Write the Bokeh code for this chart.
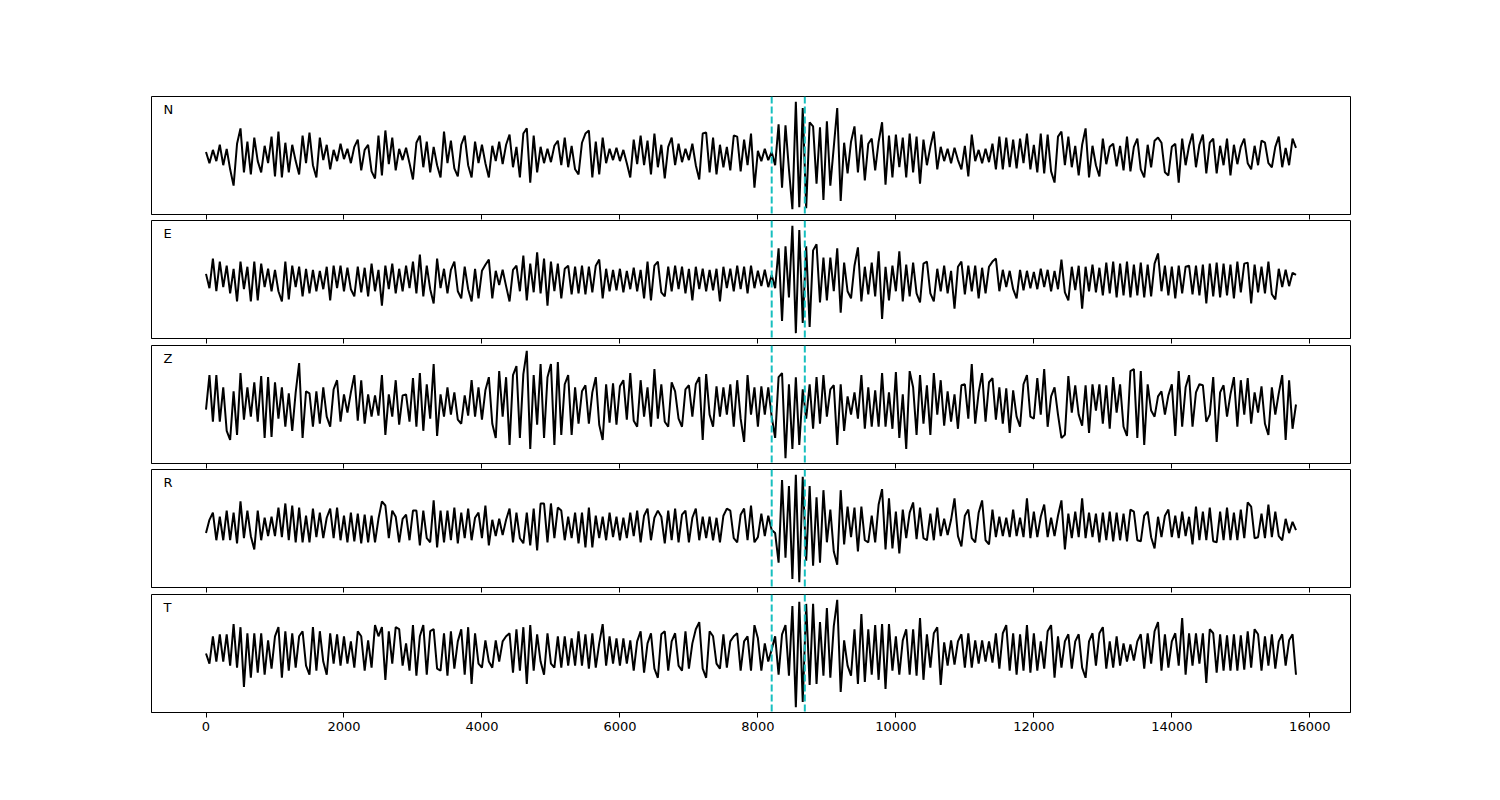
import numpy as np
from bokeh.plotting import figure
from bokeh.layouts import column
from bokeh.models import Span, Label, Range1d, FixedTicker
from bokeh.embed import file_html
from bokeh.resources import INLINE

# sample interval of the traces (x units)
DT = 50

N_vals = [
    3, -8, 5, -6, 10, -10, 6, -14, -30, 11,
    26, -17, 13, -19, 17, -6, -17, 9, -8, 18,
    -21, 23, -22, 12, -17, 10, -6, -19, 19, -8,
    22, -10, -22, 17, -5, 10, -14, 5, -6, 11,
    -4, 6, -8, 8, 15, -15, 5, 10, -16, -23,
    19, -20, 24, -9, 17, -15, 6, -5, 7, -8,
    -24, 12, 19, -12, 13, -17, 8, -10, -22, 23,
    -8, 14, -13, -21, 10, 19, -10, -22, 13, -8,
    10, -8, -22, 9, -6, 13, -9, 10, 20, -12,
    8, -22, 21, 26, -27, 19, -17, 8, -8, 6,
    -7, 9, 14, -10, 17, -12, 9, -14, -19, 12,
    21, 24, -22, 13, -19, 17, -8, 6, -5, 7,
    -6, 5, -8, -22, 15, -9, 19, -10, 14, -19,
    21, -12, 10, -23, 8, 17, -10, 11, -7, 6,
    -5, 11, -10, -24, 21, 22, -17, 17, -19, 10,
    -12, 8, -15, 19, 18, -16, 15, -10, 21, -32,
    4, -6, 6, -5, 3, -10, 30, -32, 29, -14,
    -53, 52, -51, 46, -52, 32, 28, -28, 27, -44,
    33, -30, 8, 46, -45, 12, -18, 13, 28, -17,
    20, -25, 11, 16, -15, 13, 32, -29, 19, -22,
    20, -12, 17, -22, 21, -17, 18, -28, 15, -10,
    8, 23, -14, 8, -6, 6, -8, 7, -5, -14,
    9, -21, 20, -6, 5, -8, 6, -7, 11, -14,
    18, -14, 17, -12, 15, -13, 16, -8, 21, -14,
    10, -17, 21, -18, 20, -16, -27, 18, 23, -10,
    18, -12, 9, -20, 10, 26, -22, 9, -10, -21,
    16, -9, 8, 11, -11, 9, -15, 18, -16, 8,
    16, -14, -22, 10, -12, 14, 17, 12, -17, -20,
    8, 11, -27, 16, -10, 9, 21, -12, 10, 20,
    -18, 12, 16, -18, 9, -10, 16, -20, 10, -9,
    8, 16, -8, -14, 9, -10, 14, 12, -8, -12,
    8, 18, -12, 7, -10, 16, 7,
]

E_vals = [
    5, -9, 20, -12, 17, -8, 13, -14, 10, -22,
    17, -10, 12, -22, 17, -21, 15, -8, 10, -12,
    9, -12, -22, 17, -20, 13, -8, 12, -17, 10,
    -14, 9, -12, 8, -10, 12, -21, 13, -9, 13,
    -12, 11, -10, -17, 12, -13, 11, -17, 15, -12,
    9, -26, 13, -10, 15, -14, 10, -12, 13, -9,
    17, -14, 24, -17, 13, -10, -24, 20, -9, 10,
    -14, 9, 17, -12, -19, 12, -10, -22, 10, -19,
    8, 14, 19, -19, 8, -6, 9, -7, -22, 9,
    13, -12, 23, -21, 15, -13, 26, -14, 20, -26,
    17, -12, 15, -19, 10, 13, -15, 12, -14, 13,
    -15, 12, -13, 13, 19, -19, 10, -12, 9, -11,
    10, -13, 8, -10, 11, -12, 9, -19, 17, -21,
    13, 17, -13, -17, 12, -12, 13, -10, 12, -14,
    10, -21, 12, -10, 10, -12, 9, -11, 10, -22,
    12, -9, 10, -12, 13, -10, 12, -14, 13, -9,
    8, -7, 9, -8, 4, -9, 30, -41, 32, -18,
    52, -53, 48, -43, 32, -47, 28, 34, -23, 21,
    -21, 21, -12, 30, -33, 16, -12, -19, 13, 31,
    -22, 12, -15, 16, -17, 27, -39, 12, -21, 13,
    -12, 27, -22, 14, -17, 16, -14, -23, 15, 17,
    -14, -22, 10, -12, 13, -14, 8, -29, 12, 17,
    -15, 13, -12, 13, -19, 11, -14, 12, 17, 20,
    -12, 9, -8, 8, -10, -19, 9, -11, 8, -9,
    7, -10, 10, -8, 9, -12, 8, -10, 19, -13,
    -21, 12, -11, 13, -29, 12, -12, 14, -13, 11,
    -16, 16, -14, 17, -18, 15, -16, 17, -18, 14,
    -16, 16, -18, 14, -17, 15, 25, -12, 13, -16,
    12, -19, 13, -14, 12, 13, -15, 13, -16, 14,
    -24, 15, -17, 16, -18, 15, -16, 14, -19, 17,
    -13, 15, 16, -24, 14, -13, 12, -14, 17, -15,
    -20, 10, -8, 9, -7, 6, 4,
]

Z_vals = [
    -5, 29, -17, 29, -17, 17, -26, -35, 13, -30,
    31, -15, 17, -12, 22, -17, 28, -33, 27, -32,
    22, -14, 17, -22, 11, -26, 12, 41, -33, 13,
    11, -22, 13, -19, 17, -12, -22, 15, 24, -17,
    10, -8, 12, 29, -16, 24, -19, 10, -12, 9,
    -11, 29, -30, 10, -12, 24, -20, 9, 10, -17,
    26, -22, 31, -26, 20, -14, 40, -31, 10, -12,
    17, -10, 12, -15, -19, 9, -11, 24, -12, 17,
    -15, 14, 27, -19, -33, 33, -12, 27, -40, 29,
    38, -33, 30, 53, -44, 29, -20, 40, -33, 27,
    40, -40, 42, -30, 20, 29, -30, 17, -19, 13,
    19, -19, 12, 27, -20, -35, 20, -18, 21, -20,
    18, 24, -15, 31, -16, -22, 24, -12, 17, -22,
    35, -14, 20, -17, -22, 22, 13, -14, -22, 15,
    19, -12, 20, 27, -35, 30, -10, -22, 18, -12,
    17, -10, 20, -22, 24, -14, -37, 29, -10, 17,
    -22, 18, -10, 17, -12, -33, 27, 31, -53, 20,
    -44, 27, -40, 15, -14, 20, -24, 27, -19, 29,
    -12, 15, 19, -40, 20, -26, 8, -10, 12, -14,
    29, -24, 17, -22, 14, -22, 31, -22, 12, -24,
    32, -33, 10, -44, 33, 17, -30, 29, -19, 19,
    -30, 31, -10, 24, -21, 13, -17, 10, -24, 19,
    20, -14, 40, -19, 12, 31, -17, 22, 26, -15,
    17, -19, 16, -28, 14, -12, -22, 20, 29, -12,
    -14, 26, -10, 35, -22, 8, 17, -10, -33, -30,
    28, -8, 19, -10, -21, 19, -28, 20, -6, 20,
    -19, 19, -24, 27, -8, 20, -22, -31, 33, 35,
    -33, 33, -40, 20, -6, -12, 8, 13, -10, 9,
    20, -31, 33, -22, 17, 29, -22, 12, 20, 19,
    -17, -10, 27, -37, 12, 19, -12, 10, 27, -22,
    24, -10, 26, -19, 12, -8, 18, -19, -30, 17,
    -10, 11, 29, -35, 24, -24, 0,
]

R_vals = [
    -5, 8, 15, -12, 11, -12, 17, -12, 15, -15,
    26, -10, 17, -8, -21, 17, -12, 10, -8, 11,
    -8, 20, -9, 24, -12, 22, -14, 20, -14, 12,
    -14, 19, -9, 15, -10, 10, 19, -10, 20, -12,
    12, -14, 15, -13, 14, -15, 13, -14, 12, -14,
    9, 26, 22, -10, 17, 11, -14, 9, 13, -12,
    17, 17, -17, 17, -10, -14, 27, -19, 17, -14,
    17, -12, 20, -15, 15, -10, 19, -12, 10, 15,
    -10, 22, -17, 8, -8, 9, -7, 8, 19, -14,
    15, -10, -15, 15, -17, 19, -22, 24, 24, -14,
    24, -10, 20, 17, -12, 11, -10, 15, -15, 15,
    -19, 20, -19, 12, -10, 11, -12, 15, -9, 11,
    -12, 10, -10, 15, -8, 17, -14, 12, 19, -12,
    10, 17, 11, -15, 17, -12, 19, -14, 13, 17,
    -14, 10, 19, -12, 11, -10, 11, -12, 10, -14,
    12, 19, 17, -10, -14, 13, 19, -12, 22, -14,
    -9, 14, -8, 12, -2, -5, -34, 47, -29, 41,
    -50, 52, -53, 50, -32, 41, -37, 30, -34, 37,
    -14, 18, -23, -36, 37, -16, 21, -9, 20, -23,
    21, -12, -14, 12, -14, 23, 38, -21, 29, -20,
    16, -25, 18, -10, 15, 25, -11, 20, -10, -12,
    14, -12, 20, -8, 9, -7, 8, 29, -8, -18,
    12, 18, -10, -14, 15, 27, -12, -16, 18, -9,
    11, -8, 10, -9, 18, -8, 10, -9, 29, -10,
    16, -9, 11, 23, -9, 10, -8, 12, 27, -21,
    14, -10, 16, -9, 29, -10, 15, -9, 14, -14,
    15, -12, 16, -13, 15, -12, 14, -13, 18, 16,
    -12, -13, 12, 16, -9, -20, 11, -9, 12, 18,
    -9, 12, -10, 16, -8, 11, -16, 21, -12, 16,
    -12, 20, -13, -14, 16, -12, 20, -12, 15, -12,
    18, -10, 25, 21, -10, -9, 14, -10, 23, -9,
    16, -8, -12, 9, -5, 6, -2,
]

T_vals = [
    0, -10, 17, -8, 19, -8, 19, -12, 29, -14,
    26, -33, 20, -24, 20, -19, 20, -21, 13, -15,
    17, 26, -24, 22, -17, 20, -14, 17, 22, -12,
    -21, 26, -17, 22, -8, -21, 20, -10, 19, -12,
    17, -10, 12, -14, 22, 17, -17, 13, -14, 28,
    17, 26, -26, 22, -10, 26, 24, -12, 10, -17,
    28, -22, 17, 28, -21, 22, 24, -15, -17, 20,
    -22, 22, -15, 12, 24, -21, 26, -30, 20, -10,
    -14, 13, -8, -14, 13, -8, 12, 17, 20, -19,
    24, -17, 26, -30, 28, -17, 19, -8, -21, 20,
    -10, -14, 17, -14, 17, -12, 15, -12, 22, -12,
    19, -15, 20, -14, 10, 29, -12, 17, -10, 15,
    -12, 15, -10, 13, -17, 12, 22, -19, 10, 20,
    -15, -24, 19, 22, -17, 12, 20, -12, -17, 22,
    -15, 10, 24, 31, -15, -24, 22, 17, -10, -15,
    19, -14, 12, 17, 20, -17, 12, 17, -17, 28,
    15, -17, 10, -8, 4, 17, -21, 19, 28, -22,
    47, -53, 51, -48, 49, -31, 49, -30, 31, -22,
    45, -24, 27, 53, -38, 13, -12, -22, 24, -30,
    39, -28, 24, -21, 28, -26, 29, -35, 29, -17,
    17, -21, 13, 24, -21, 24, -22, 35, -26, 19,
    -14, 20, 26, -31, 11, -12, 13, -11, 12, 19,
    -14, 20, -14, 13, -10, 13, -8, 12, -9, 20,
    -15, 20, 28, -17, 20, -21, 19, -17, 28, -19,
    20, -17, 12, -15, 22, 28, -24, 17, -14, 12,
    19, -15, 12, 19, -14, -24, 12, 20, -12, 20,
    26, -15, 12, -14, 17, -12, 10, -8, 9, -7,
    12, 19, -15, 20, -10, 22, 31, -17, 19, -14,
    12, 20, -12, 35, -21, 20, -12, 20, -10, 20,
    -29, 24, 20, -19, 19, -17, 18, -17, 19, -17,
    18, -16, 22, -14, 24, 19, -17, 17, -12, 19,
    -15, 12, 19, -12, 13, 19, -21,
]

channels = ["N", "E", "Z", "R", "T"]
traces = [N_vals, E_vals, Z_vals, R_vals, T_vals]
picks = [8200, 8680]
x_ticks = [0, 2000, 4000, 6000, 8000, 10000, 12000, 14000, 16000]

t_end = (len(N_vals) - 1) * DT
xpad = 0.05 * t_end
x_lo, x_hi = -xpad, t_end + xpad

gaps = [6, 7, 6, 7]

figs = []
for k, (name, vals) in enumerate(zip(channels, traces)):
    v = np.array(vals, dtype=float)
    t = np.arange(len(v)) * DT
    lo, hi = v.min(), v.max()
    ypad = 0.05 * (hi - lo)
    y0, y1 = lo - ypad, hi + ypad
    last = (k == len(traces) - 1)
    p = figure(frame_width=1199, frame_height=118,
               x_range=Range1d(x_lo, x_hi), y_range=Range1d(y0, y1),
               output_backend="svg", toolbar_location=None,
               y_axis_location=None,
               min_border_left=151, min_border_right=142,
               min_border_top=96 if k == 0 else 0,
               min_border_bottom=60 if last else gaps[k],
               background_fill_color="white", border_fill_color="white")
    p.line(t, v, line_color="black", line_width=2.0)
    for pk in picks:
        p.add_layout(Span(location=pk, dimension="height", line_color="#17bfbf",
                          line_width=2, line_dash="7 3"))
    p.add_layout(Label(x=x_lo + 0.01 * (x_hi - x_lo), y=y0 + 0.89 * (y1 - y0),
                       text=name, text_font="DejaVu Sans", text_font_size="13px",
                       text_color="black", text_baseline="alphabetic"))
    p.xgrid.visible = False
    p.ygrid.visible = False
    p.outline_line_color = "black"
    p.outline_line_alpha = 1.0
    p.outline_line_width = 1
    ax = p.xaxis[0]
    ax.ticker = FixedTicker(ticks=x_ticks)
    ax.minor_tick_line_color = None
    ax.major_tick_in = 0
    ax.major_tick_out = 5
    ax.major_tick_line_color = "black"
    ax.axis_line_color = "black"
    if last:
        ax.major_label_text_font = "DejaVu Sans"
        ax.major_label_text_font_size = "13px"
        ax.major_label_text_color = "black"
        ax.major_label_standoff = 4
    else:
        ax.major_label_text_font_size = "0px"
        ax.major_label_text_color = None
        ax.major_label_standoff = 0
    figs.append(p)

layout = column(*figs, spacing=0)
open("out.html", "w").write(file_html(layout, INLINE))
